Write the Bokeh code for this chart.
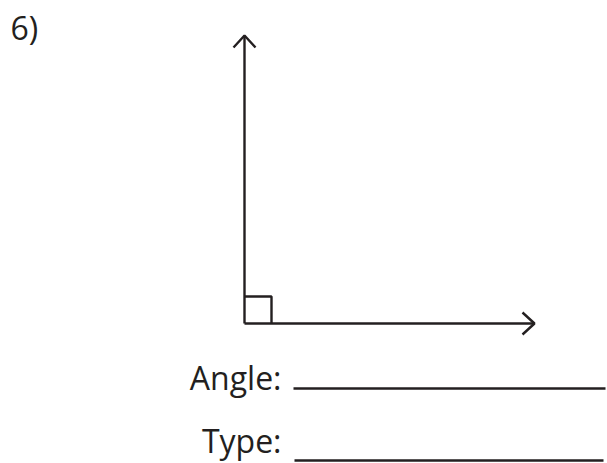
from bokeh.plotting import figure
from bokeh.models import Range1d
from bokeh.core.properties import value
from bokeh.embed import file_html
from bokeh.resources import INLINE

# Diagram geometry (in picture pixel units, y downward)
vertex = (244, 323)
up_tip = (244, 35)
right_tip = (534, 323)
square_size = 27
head_w = 11
head_l = 12

label_number = "6)"
labels = ["Angle:", "Type:"]
label_x = [281, 281]
label_y = [377, 440]
blank_x0 = [293, 294]
blank_x1 = [605, 603]
blank_y = [388, 460]

INK = "#231f20"

p = figure(width=607, height=463, output_backend="svg", toolbar_location=None,
           x_range=Range1d(0, 607), y_range=Range1d(463, 0), min_border=0)
p.axis.visible = False
p.grid.visible = False
p.outline_line_color = None
p.background_fill_color = "white"
p.border_fill_color = "white"

LW = 2.4
# rays
p.line([vertex[0], up_tip[0]], [vertex[1], up_tip[1]], line_color=INK, line_width=LW)
p.line([vertex[0], right_tip[0]], [vertex[1], right_tip[1]], line_color=INK, line_width=LW)
# arrow heads
p.line([up_tip[0] - head_w, up_tip[0], up_tip[0] + head_w],
       [up_tip[1] + head_l, up_tip[1], up_tip[1] + head_l], line_color=INK, line_width=LW)
p.line([right_tip[0] - head_l, right_tip[0], right_tip[0] - head_l],
       [right_tip[1] - head_w, right_tip[1], right_tip[1] + head_w], line_color=INK, line_width=LW)
# right-angle marker
p.line([vertex[0], vertex[0] + square_size, vertex[0] + square_size],
       [vertex[1] - square_size, vertex[1] - square_size, vertex[1]], line_color=INK, line_width=LW)

# number
p.text(x=[10], y=[27], text=[label_number], text_font=value("Open Sans"),
       text_font_size="32px", text_color=INK, text_baseline="alphabetic", text_align="left")
# labels
p.text(x=label_x, y=label_y, text=labels, text_font=value("Open Sans"),
       text_font_size="32px", text_color=INK, text_baseline="alphabetic", text_align="right")
# blanks
p.segment(x0=blank_x0, y0=blank_y, x1=blank_x1, y1=blank_y, line_color=INK, line_width=2.5)

open("out.html", "w").write(file_html(p, INLINE))
